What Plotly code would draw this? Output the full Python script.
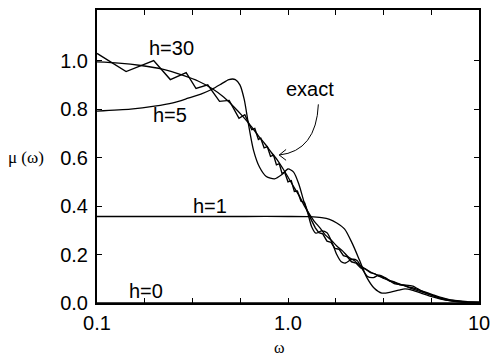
import math
import plotly.graph_objects as go

# Exact spectral density mu(omega)
exact_w = [0.10, 0.142, 0.198, 0.242, 0.293, 0.33, 0.38, 0.438, 0.492, 0.554,
           0.594, 0.646, 0.67, 0.70, 0.72, 0.75, 0.78, 0.81, 0.84, 0.87,
           0.90, 0.93, 0.96, 1.0, 1.04, 1.08, 1.12, 1.17, 1.22, 1.27,
           1.33, 1.39, 1.45, 1.52, 1.6, 1.68, 1.76, 1.85, 1.95, 2.05,
           2.15, 2.27, 2.4, 2.55, 2.7, 2.85, 3.0, 3.2, 3.4, 3.6,
           3.85, 4.1, 4.4, 4.8, 5.2, 5.7, 6.3, 7.0, 7.8, 8.7, 10.0]
exact_mu = [1.03, 0.955, 1.0, 0.922, 0.951, 0.885, 0.90, 0.832, 0.836, 0.762,
            0.777, 0.715, 0.72, 0.675, 0.68, 0.64, 0.645, 0.605, 0.61, 0.57,
            0.575, 0.535, 0.54, 0.50, 0.505, 0.46, 0.462, 0.42, 0.415, 0.375,
            0.34, 0.31, 0.29, 0.285, 0.255, 0.25, 0.225, 0.222, 0.195, 0.19,
            0.17, 0.165, 0.145, 0.14, 0.125, 0.12, 0.11, 0.105, 0.09, 0.085,
            0.075, 0.072, 0.06, 0.05, 0.04, 0.03, 0.02, 0.013, 0.008, 0.005, 0.003]

# h = 30
h30_w = [0.10, 0.13, 0.17, 0.22, 0.28, 0.34, 0.40, 0.46, 0.52, 0.58,
         0.64, 0.70, 0.76, 0.82, 0.88, 0.94, 1.0, 1.07, 1.14, 1.22,
         1.30, 1.38, 1.47, 1.57, 1.68, 1.80, 1.93, 2.07, 2.22, 2.38,
         2.55, 2.75, 2.95, 3.2, 3.5, 3.8, 4.2, 4.6, 5.1, 5.7,
         6.4, 7.2, 8.2, 10.0]
h30_mu = [0.995, 0.99, 0.98, 0.965, 0.94, 0.915, 0.885, 0.85, 0.81, 0.77,
          0.73, 0.69, 0.655, 0.62, 0.59, 0.555, 0.52, 0.48, 0.445, 0.40,
          0.365, 0.335, 0.31, 0.28, 0.26, 0.235, 0.215, 0.19, 0.175, 0.155,
          0.14, 0.125, 0.115, 0.10, 0.09, 0.08, 0.068, 0.06, 0.048, 0.035,
          0.022, 0.012, 0.006, 0.002]

# h = 5
h5_w = [0.10, 0.15, 0.20, 0.25, 0.30, 0.35, 0.40, 0.45, 0.49, 0.53,
        0.56, 0.59, 0.62, 0.66, 0.71, 0.77, 0.85, 0.93, 1.0, 1.07,
        1.14, 1.21, 1.27, 1.33, 1.40, 1.50, 1.60, 1.70, 1.80, 1.90,
        2.0, 2.15, 2.3, 2.45, 2.6, 2.8, 3.0, 3.3, 3.6, 4.0,
        4.5, 5.0, 5.6, 6.5, 8.0, 10.0]
h5_mu = [0.792, 0.80, 0.812, 0.826, 0.845, 0.862, 0.882, 0.905, 0.922, 0.922,
         0.90, 0.84, 0.74, 0.63, 0.56, 0.522, 0.512, 0.53, 0.553, 0.54,
         0.49, 0.42, 0.37, 0.315, 0.288, 0.298, 0.29, 0.25, 0.20, 0.17,
         0.165, 0.18, 0.175, 0.14, 0.11, 0.105, 0.115, 0.10, 0.08, 0.075,
         0.07, 0.05, 0.033, 0.015, 0.005, 0.002]

# h = 1
h1_w = [0.10, 0.3, 0.6, 1.0, 1.3, 1.5, 1.65, 1.8, 1.98, 2.17,
        2.37, 2.58, 2.83, 3.1, 3.45, 3.8, 4.1, 4.5, 5.0, 5.6,
        6.3, 7.2, 8.3, 10.0]
h1_mu = [0.357, 0.357, 0.357, 0.357, 0.356, 0.352, 0.345, 0.33, 0.305, 0.246,
         0.176, 0.107, 0.061, 0.041, 0.045, 0.053, 0.058, 0.052, 0.04, 0.027,
         0.016, 0.008, 0.004, 0.002]

# h = 0
h0_w = [0.10, 10.0]
h0_mu = [0.0, 0.0]

# Axis ticks: quarter-decade marks, labelled at the decades
x_tickvals = [10 ** (-1 + k / 4) for k in range(9)]
x_ticktext = ["0.1", "", "", "", "1.0", "", "", "", "10"]
y_tickvals = [0.0, 0.2, 0.4, 0.6, 0.8, 1.0]
y_ticktext = ["0.0", "0.2", "0.4", "0.6", "0.8", "1.0"]

# Curve labels: (text, omega, mu)
curve_labels = [("h=30", 0.245, 1.053), ("h=5", 0.242, 0.775),
                ("h=1", 0.389, 0.40), ("h=0", 0.18, 0.049),
                ("exact", 1.30, 0.885)]

line = dict(color="black", width=1.3)
fig = go.Figure()
fig.add_trace(go.Scatter(x=h0_w, y=h0_mu, mode="lines", line=line))
fig.add_trace(go.Scatter(x=h1_w, y=h1_mu, mode="lines",
                         line=dict(line, shape="spline", smoothing=0.7)))
fig.add_trace(go.Scatter(x=h5_w, y=h5_mu, mode="lines",
                         line=dict(line, shape="spline", smoothing=0.7)))
fig.add_trace(go.Scatter(x=h30_w, y=h30_mu, mode="lines",
                         line=dict(line, shape="spline", smoothing=0.7)))
fig.add_trace(go.Scatter(x=exact_w, y=exact_mu, mode="lines",
                         line=dict(color="black", width=1.4)))

sans = "Liberation Sans, Arial, Helvetica, sans-serif"
serif = "Liberation Serif, Times New Roman, serif"

for text, w, mu in curve_labels:
    fig.add_annotation(x=math.log10(w), y=mu, xref="x", yref="y", text=text,
                       showarrow=False, font=dict(family=sans, size=20, color="black"))

# Curved pointer from the "exact" label down to the curve
fig.add_shape(type="path", xref="paper", yref="paper",
              path="M 0.5795 0.678 Q 0.574 0.519 0.477 0.505 "
                   "M 0.495 0.524 L 0.477 0.505 L 0.495 0.487",
              line=dict(color="black", width=1))

fig.add_annotation(x=-0.185, y=0.498, xref="paper", yref="paper", text="μ (ω)",
                   xanchor="center", yanchor="middle", showarrow=False,
                   font=dict(family=serif, size=17, color="black"))
fig.add_annotation(x=0.479, y=-0.153, xref="paper", yref="paper", text="ω",
                   xanchor="center", yanchor="middle", showarrow=False,
                   font=dict(family=serif, size=16, color="black"))

fig.update_layout(
    width=498, height=355,
    margin=dict(l=97, r=11, t=8, b=52),
    paper_bgcolor="white", plot_bgcolor="white",
    showlegend=False,
    xaxis=dict(type="log", range=[-1, 1], tickvals=x_tickvals, ticktext=x_ticktext,
               ticks="inside", ticklen=5, tickwidth=1.2, tickcolor="black",
               showline=True, linewidth=2, linecolor="black", mirror="ticks",
               showgrid=False, zeroline=False, ticklabelstandoff=1,
               ticklabeloverflow="allow",
               tickfont=dict(family=sans, size=20, color="black")),
    yaxis=dict(range=[0, 1.209], tickvals=y_tickvals, ticktext=y_ticktext,
               ticks="inside", ticklen=5, tickwidth=1.2, tickcolor="black",
               showline=True, linewidth=2, linecolor="black", mirror="ticks",
               showgrid=False, zeroline=False, ticklabelstandoff=3,
               tickfont=dict(family=sans, size=20, color="black")),
)

fig.write_html("out.html")
